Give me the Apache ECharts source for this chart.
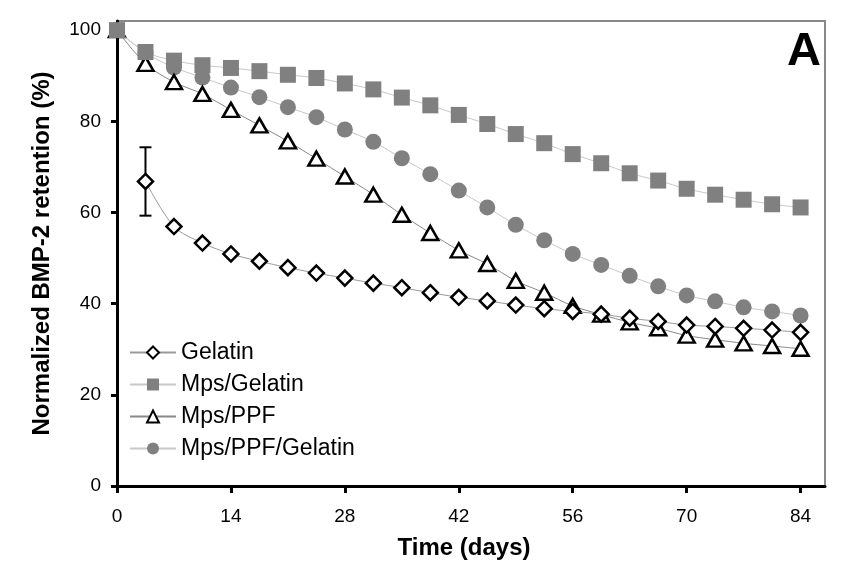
<!DOCTYPE html>
<html>
<head>
<meta charset="utf-8">
<script src="https://cdn.jsdelivr.net/npm/echarts@6/dist/echarts.min.js"></script>
<style>
html,body{margin:0;padding:0;background:#fff;}
#chart{width:848px;height:574px;}
</style>
</head>
<body>
<div id="chart"></div>
<script>
var days = [0, 3.5, 7, 10.5, 14, 17.5, 21, 24.5, 28, 31.5, 35, 38.5, 42, 45.5, 49, 52.5, 56, 59.5, 63, 66.5, 70, 73.5, 77, 80.5, 84];
var gelatin = [null, 66.8, 56.9, 53.3, 50.9, 49.3, 47.9, 46.7, 45.6, 44.5, 43.5, 42.4, 41.4, 40.6, 39.7, 38.9, 38.3, 37.7, 36.8, 36.1, 35.3, 35.0, 34.6, 34.2, 33.7];
var mpsGelatin = [100, 95.2, 93.3, 92.3, 91.7, 91.0, 90.2, 89.5, 88.3, 87.0, 85.2, 83.5, 81.4, 79.4, 77.2, 75.2, 72.8, 70.8, 68.6, 67.0, 65.2, 63.9, 62.8, 61.8, 61.1];
var mpsPPF = [100, 92.6, 88.6, 86.0, 82.5, 79.1, 75.6, 71.8, 67.9, 63.9, 59.5, 55.5, 51.7, 48.7, 45.0, 42.4, 39.5, 37.6, 35.9, 34.6, 33.0, 32.1, 31.3, 30.7, 30.1];
var mpsPPFGelatin = [100, 95.0, 91.8, 89.6, 87.4, 85.3, 83.1, 80.9, 78.2, 75.5, 71.9, 68.4, 64.8, 61.1, 57.3, 53.9, 50.9, 48.5, 46.1, 43.8, 41.8, 40.5, 39.2, 38.3, 37.4];
var errDay = [3.5];
var errLow = [59.3];
var errHigh = [74.3];
var xTicks = [0, 14, 28, 42, 56, 70, 84];
var yTicks = [0, 20, 40, 60, 80, 100];
var seriesNames = ['Gelatin', 'Mps/Gelatin', 'Mps/PPF', 'Mps/PPF/Gelatin'];

function pairs(arr) {
  return days.map(function (d, i) { return [d, arr[i]]; });
}
var FONT = "'Liberation Sans', Arial, sans-serif";
var chart = echarts.init(document.getElementById('chart'));
var option = {
  animation: false,
  backgroundColor: '#fff',
  grid: { left: 117, right: 23, top: 21, bottom: 88, show: true, borderColor: '#888', borderWidth: 2, backgroundColor: 'transparent' },
  xAxis: {
    type: 'value', min: 0, max: 87,
    name: 'Time (days)', nameLocation: 'middle', nameGap: 50,
    nameTextStyle: { fontFamily: FONT, fontWeight: 'bold', fontSize: 24, color: '#000', padding: [0, 14, 0, 0] },
    axisLine: { show: true, onZero: false, lineStyle: { color: '#000', width: 3 } },
    axisTick: { show: true, length: 7, lineStyle: { color: '#000', width: 3 }, customValues: xTicks },
    axisLabel: { fontFamily: FONT, fontSize: 19, color: '#000', margin: 21, customValues: xTicks },
    splitLine: { show: false }
  },
  yAxis: {
    type: 'value', min: 0, max: 102,
    name: 'Normalized BMP-2 retention (%)', nameLocation: 'middle', nameGap: 63,
    nameTextStyle: { fontFamily: FONT, fontWeight: 'bold', fontSize: 24, color: '#000' },
    axisLine: { show: true, onZero: false, lineStyle: { color: '#000', width: 3 } },
    axisTick: { show: true, length: 6, lineStyle: { color: '#000', width: 3 }, customValues: yTicks },
    axisLabel: { fontFamily: FONT, fontSize: 19, color: '#000', margin: 16, customValues: yTicks },
    splitLine: { show: false }
  },
  legend: {
    orient: 'vertical', left: 129, top: 341, padding: 0,
    itemWidth: 46, itemHeight: 15, itemGap: 9,
    textStyle: { fontFamily: FONT, fontSize: 23, color: '#000' },
    data: seriesNames
  },
  graphic: [{
    type: 'text', left: 787, top: 29,
    style: { text: 'A', font: 'bold 47px ' + FONT, fill: '#000' }
  }],
  series: [
    {
      type: 'custom', name: 'err', z: 1, silent: true,
      renderItem: function (params, api) {
        var x = api.value(0), lo = api.value(1), hi = api.value(2);
        var pLo = api.coord([x, lo]), pHi = api.coord([x, hi]);
        var w = 6;
        var st = { stroke: '#000', lineWidth: 2 };
        return { type: 'group', children: [
          { type: 'line', shape: { x1: pLo[0], y1: pLo[1], x2: pHi[0], y2: pHi[1] }, style: st },
          { type: 'line', shape: { x1: pLo[0] - w, y1: pLo[1], x2: pLo[0] + w, y2: pLo[1] }, style: st },
          { type: 'line', shape: { x1: pHi[0] - w, y1: pHi[1], x2: pHi[0] + w, y2: pHi[1] }, style: st }
        ]};
      },
      data: errDay.map(function (d, i) { return [d, errLow[i], errHigh[i]]; })
    },
    {
      name: 'Mps/PPF/Gelatin', type: 'line', z: 2, smooth: 0.3, data: pairs(mpsPPFGelatin),
      symbol: 'circle', symbolSize: 16,
      itemStyle: { color: '#808080', borderWidth: 0 },
      lineStyle: { color: '#c8c8c8', width: 1 }
    },
    {
      name: 'Mps/PPF', type: 'line', z: 3, smooth: 0.3, data: pairs(mpsPPF),
      symbol: 'triangle', symbolSize: [16, 14],
      itemStyle: { color: '#fff', borderColor: '#000', borderWidth: 2.5 },
      lineStyle: { color: '#888', width: 1 }
    },
    {
      name: 'Mps/Gelatin', type: 'line', z: 4, smooth: 0.3, data: pairs(mpsGelatin),
      symbol: 'rect', symbolSize: 16,
      itemStyle: { color: '#808080', borderWidth: 0 },
      lineStyle: { color: '#c8c8c8', width: 1 }
    },
    {
      name: 'Gelatin', type: 'line', z: 5, smooth: 0.3, data: pairs(gelatin), connectNulls: false,
      symbol: 'diamond', symbolSize: [15, 15],
      itemStyle: { color: '#fff', borderColor: '#000', borderWidth: 2.5 },
      lineStyle: { color: '#999', width: 1 }
    }
  ]
};
chart.setOption(option);
</script>
</body>
</html>
